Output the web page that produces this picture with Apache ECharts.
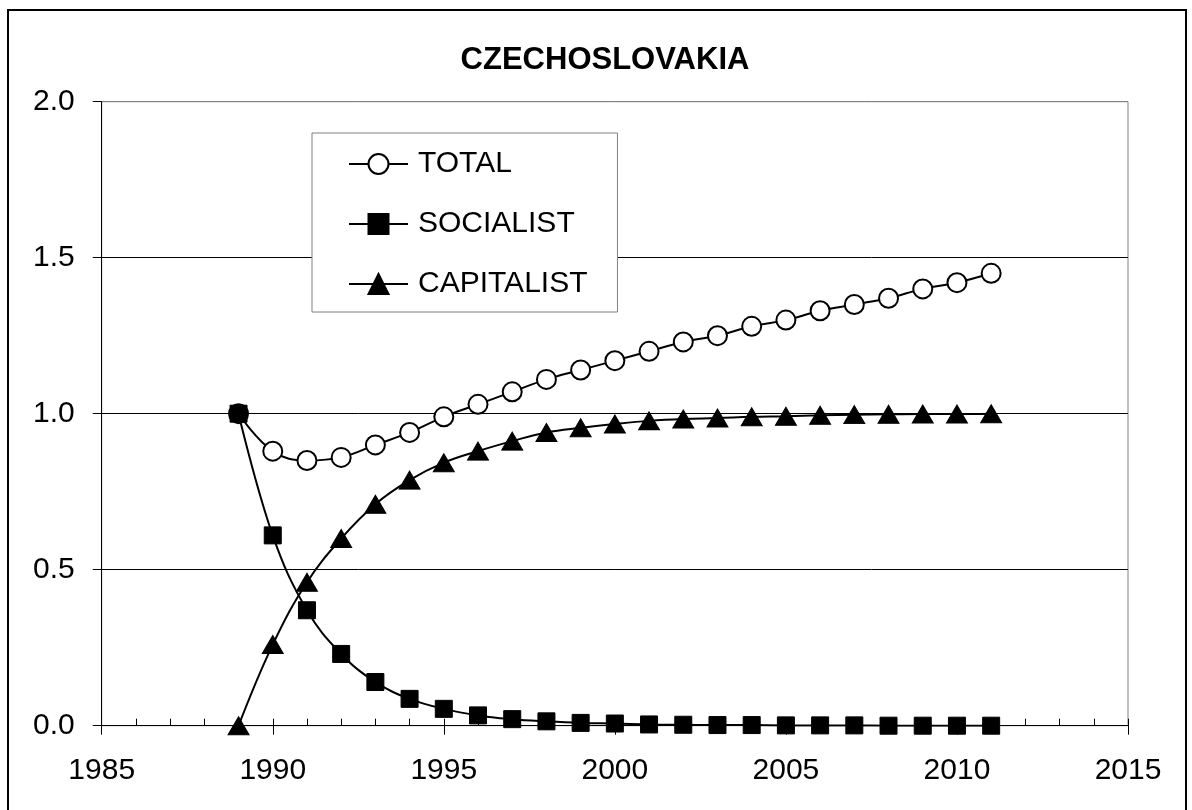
<!DOCTYPE html>
<html>
<head>
<meta charset="utf-8">
<script src="https://cdn.jsdelivr.net/npm/echarts@6/dist/echarts.min.js"></script>
<style>
  html, body { margin: 0; padding: 0; background: #fff; }
  #chart0 { width: 1192px; height: 810px; }
</style>
</head>
<body>
<div id="chart0"></div>
<script>
  var years = [1989, 1990, 1991, 1992, 1993, 1994, 1995, 1996, 1997, 1998, 1999, 2000,
    2001, 2002, 2003, 2004, 2005, 2006, 2007, 2008, 2009, 2010, 2011]
  var total = [1.00, 0.88, 0.85, 0.86, 0.90, 0.94, 0.99, 1.03, 1.07, 1.11, 1.14, 1.17,
    1.20, 1.23, 1.25, 1.28, 1.30, 1.33, 1.35, 1.37, 1.40, 1.42, 1.45]
  var socialist = [1.00, 0.61, 0.37, 0.23, 0.14, 0.086, 0.054, 0.033, 0.021, 0.014, 0.009, 0.007,
    0.004, 0.003, 0.002, 0.002, 0.001, 0.001, 0.001, 0, 0, 0, 0]
  var capitalist = [0, 0.26, 0.46, 0.60, 0.71, 0.787, 0.843, 0.88, 0.912, 0.94, 0.955, 0.967,
    0.977, 0.983, 0.986, 0.99, 0.992, 0.995, 0.997, 0.998, 0.999, 0.999, 1.0]
  var seriesNames = ['TOTAL', 'SOCIALIST', 'CAPITALIST']

  function pairs (vals) {
    return years.map(function (y, i) { return [y, vals[i]] })
  }

  var font = '"Liberation Sans", Arial, sans-serif'
  var chart0 = echarts.init(document.getElementById('chart0'))
  var option0 = {
    backgroundColor: '#fff',
    animation: false,
    textStyle: { fontFamily: font, color: '#000' },
    title: {
      text: 'CZECHOSLOVAKIA',
      left: 600,
      top: 40,
      textAlign: 'center',
      textStyle: { fontFamily: font, fontSize: 31, fontWeight: 'bold', color: '#000' }
    },
    graphic: [{
      type: 'rect',
      shape: { x: 8, y: 10, width: 1178, height: 830 },
      style: { fill: 'none', stroke: '#000', lineWidth: 2 },
      silent: true,
      z: 100
    }],
    legend: {
      orient: 'vertical',
      left: 312,
      top: 133,
      width: 307,
      padding: [16, 30, 13, 36],
      itemWidth: 59,
      itemHeight: 25,
      itemGap: 30,
      backgroundColor: '#fff',
      borderColor: '#808080',
      borderWidth: 1,
      textStyle: { fontFamily: font, fontSize: 30, color: '#000', padding: [0, 0, 0, 5] },
      data: seriesNames
    },
    grid: {
      left: 101.7,
      right: 64,
      top: 101.7,
      bottom: 84.3,
      show: true,
      borderColor: '#808080',
      borderWidth: 1,
      backgroundColor: '#fff'
    },
    xAxis: [{
      type: 'value',
      min: 1985,
      max: 2015,
      interval: 5,
      axisLine: { show: true, lineStyle: { color: '#000', width: 1 } },
      axisTick: { show: true, inside: false, length: 9, lineStyle: { color: '#000' } },
      axisLabel: {
        fontFamily: font, fontSize: 30, color: '#000', margin: 30,
        formatter: function (v) { return String(v) }
      },
      splitLine: { show: false }
    }, {
      type: 'value',
      min: 1985,
      max: 2015,
      interval: 1,
      position: 'bottom',
      axisLine: { show: false },
      axisTick: { show: true, inside: true, length: 7, lineStyle: { color: '#000' } },
      axisLabel: { show: false },
      splitLine: { show: false }
    }],
    yAxis: {
      type: 'value',
      min: 0,
      max: 2,
      interval: 0.5,
      axisLine: { show: true, lineStyle: { color: '#000', width: 1 } },
      axisTick: { show: true, inside: false, length: 9, lineStyle: { color: '#000' } },
      axisLabel: {
        fontFamily: font, fontSize: 30, color: '#000', margin: 27,
        formatter: function (v) { return v.toFixed(1) }
      },
      splitLine: { show: true, lineStyle: { color: ['#000', '#000', '#000', '#000', '#808080'], width: 1 } }
    },
    series: [{
      name: seriesNames[0],
      type: 'line',
      smooth: 0.4,
      data: pairs(total),
      symbol: 'circle',
      symbolSize: 19,
      lineStyle: { color: '#000', width: 2 },
      itemStyle: { color: '#fff', borderColor: '#000', borderWidth: 2 }
    }, {
      name: seriesNames[1],
      type: 'line',
      smooth: 0.4,
      data: pairs(socialist),
      symbol: 'rect',
      symbolSize: 17,
      lineStyle: { color: '#000', width: 2 },
      itemStyle: { color: '#000', borderColor: '#000', borderWidth: 1 }
    }, {
      name: seriesNames[2],
      type: 'line',
      smooth: 0.4,
      data: pairs(capitalist),
      symbol: 'triangle',
      symbolSize: [21, 18],
      lineStyle: { color: '#000', width: 2 },
      itemStyle: { color: '#000', borderColor: '#000', borderWidth: 1 }
    }]
  }
  chart0.setOption(option0)
</script>
</body>
</html>
